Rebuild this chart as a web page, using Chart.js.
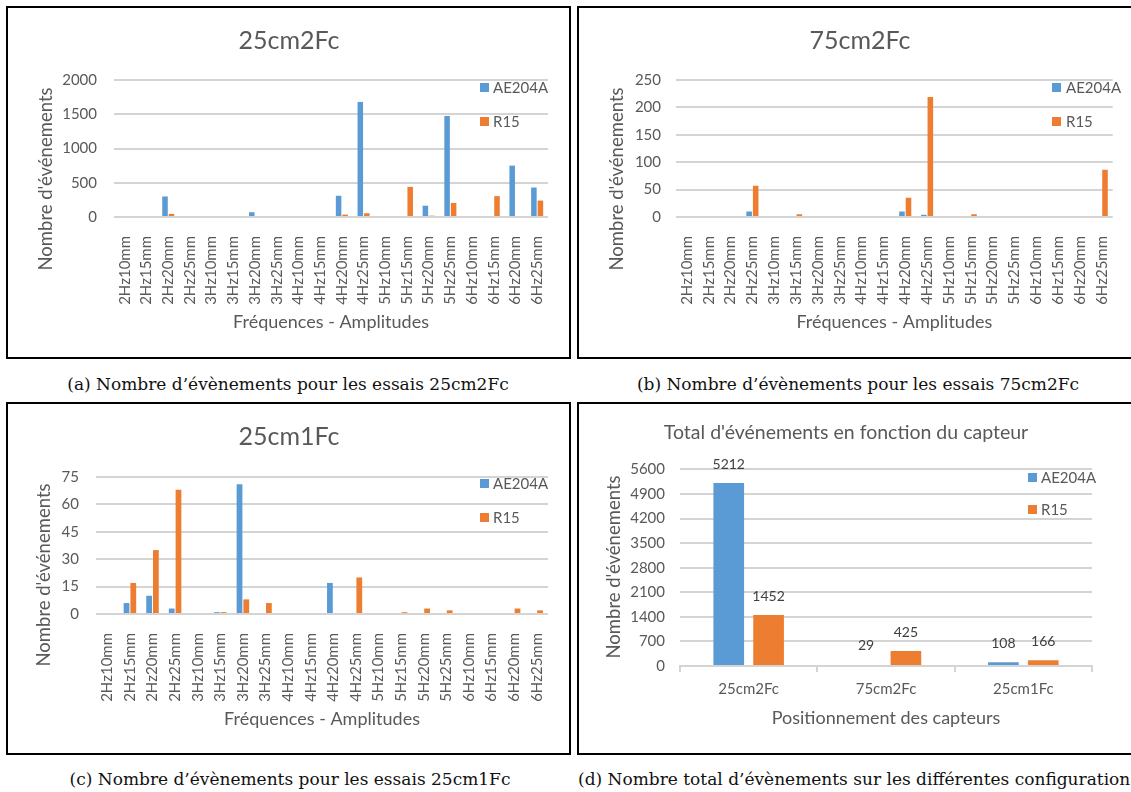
<!DOCTYPE html>
<html><head><meta charset="utf-8">
<script src="https://cdn.jsdelivr.net/npm/chart.js@4.4.1/dist/chart.umd.min.js"></script>
<style>
html,body{margin:0;padding:0;background:#fff;}
body{width:1131px;height:792px;position:relative;overflow:hidden;font-family:Lato,sans-serif;}
.panel{position:absolute;border:2px solid #000;box-sizing:border-box;}
canvas{position:absolute;}
.ytitle{position:absolute;transform:translate(-50%,-50%) rotate(-90deg);white-space:nowrap;font-size:18.5px;color:#595959;line-height:1;}
.legsq{position:absolute;width:9px;height:9px;}
.legtx{position:absolute;font-size:15px;color:#595959;white-space:nowrap;line-height:16px;}
.cap{position:absolute;font-family:'DejaVu Serif',serif;font-size:17px;color:#111;white-space:nowrap;line-height:20px;}
</style></head><body>
<div class="panel" style="left:6px;top:6px;width:565px;height:353px"></div>
<div class="panel" style="left:577px;top:6px;width:560px;height:353px"></div>
<div class="panel" style="left:6px;top:402px;width:565px;height:353px"></div>
<div class="panel" style="left:577px;top:402px;width:560px;height:353px"></div>

<canvas id="ca" width="561" height="348" style="left:8px;top:8px"></canvas>
<canvas id="cb" width="552" height="348" style="left:579px;top:8px"></canvas>
<canvas id="cc" width="561" height="349" style="left:8px;top:404px"></canvas>
<canvas id="cd" width="552" height="349" style="left:579px;top:404px"></canvas>

<div class="ytitle" style="left:45px;top:179px">Nombre d'événements</div>
<div class="ytitle" style="left:616px;top:179px">Nombre d'événements</div>
<div class="ytitle" style="left:43px;top:575px">Nombre d'événements</div>
<div class="ytitle" style="left:613px;top:567px">Nombre d'événements</div>

<div class="cap" style="left:288px;top:374px;transform:translateX(-50%)">(a) Nombre d’évènements pour les essais 25cm2Fc</div>
<div class="cap" style="left:858px;top:374px;transform:translateX(-50%)">(b) Nombre d’évènements pour les essais 75cm2Fc</div>
<div class="cap" style="left:290px;top:769px;transform:translateX(-50%)">(c) Nombre d’évènements pour les essais 25cm1Fc</div>
<div class="cap" style="left:578px;top:769px">(d) Nombre total d’évènements sur les différentes configurations</div>

<script>
// ---------- DATA ----------
const categories = ['2Hz10mm','2Hz15mm','2Hz20mm','2Hz25mm','3Hz10mm','3Hz15mm','3Hz20mm','3Hz25mm','4Hz10mm','4Hz15mm','4Hz20mm','4Hz25mm','5Hz10mm','5Hz15mm','5Hz20mm','5Hz25mm','6Hz10mm','6Hz15mm','6Hz20mm','6Hz25mm'];
const seriesNames = ['AE204A','R15'];
const seriesColors = ['#5B9BD5','#ED7D31'];

const a_AE204A = [0,0,300,0,0,0,70,0,0,0,310,1680,0,0,165,1475,0,0,750,430];
const a_R15    = [0,0,45,0,0,0,0,0,0,0,35,55,0,440,20,205,0,305,0,240];
const a_yTicks = [0,500,1000,1500,2000];

const b_AE204A = [0,0,0,10,0,0,0,0,0,0,10,4,0,0,0,0,0,0,0,0];
const b_R15    = [0,0,0,57,0,5,0,0,0,0,35,219,0,5,2,2,2,0,2,86];
const b_yTicks = [0,50,100,150,200,250];

const c_AE204A = [0,6,10,3,0,1,71,0,0,0,17,0,0,0,0,0,0,0,0,0];
const c_R15    = [0,17,35,68,0,1,8,6,0,0,0,20,0,1,3,2,0,0,3,2];
const c_yTicks = [0,15,30,45,60,75];

const d_categories = ['25cm2Fc','75cm2Fc','25cm1Fc'];
const d_AE204A = [5212,29,108];
const d_R15    = [1452,425,166];
const d_yTicks = [0,700,1400,2100,2800,3500,4200,4900,5600];

const titles = ['25cm2Fc','75cm2Fc','25cm1Fc','Total d\'événements en fonction du capteur'];
const xTitleFA = 'Fréquences - Amplitudes';
const xTitleD = 'Positionnement des capteurs';

// ---------- SETUP ----------
Chart.defaults.font.family = 'Lato';
Chart.defaults.color = '#595959';
const GRID = '#d4d4d4';
const TXT = '#595959';
const plain = v => String(v);

function legend(sqLeft, txLeft, y1, y2){
  [y1,y2].forEach((y,i)=>{
    const s=document.createElement('div'); s.className='legsq';
    s.style.left=sqLeft+'px'; s.style.top=(y-4.5)+'px'; s.style.background=seriesColors[i];
    document.body.appendChild(s);
    const t=document.createElement('div'); t.className='legtx';
    t.style.left=txLeft+'px'; t.style.top=(y-8)+'px'; t.textContent=seriesNames[i];
    document.body.appendChild(t);
  });
}

function freqChart(id, v1, v2, yTicks, title, o){
  const step = yTicks[1]-yTicks[0];
  return new Chart(document.getElementById(id), {
    type:'bar',
    data:{labels:categories, datasets:[
      {label:seriesNames[0], data:v1, backgroundColor:seriesColors[0], categoryPercentage:0.6, barPercentage:0.85},
      {label:seriesNames[1], data:v2, backgroundColor:seriesColors[1], categoryPercentage:0.6, barPercentage:0.85}
    ]},
    options:{
      responsive:false, animation:false, devicePixelRatio:1,
      layout:{padding:{left:o.L, right:o.R, top:0, bottom:0}},
      plugins:{
        legend:{display:false}, tooltip:{enabled:false},
        title:{display:true, text:title, color:TXT, font:{size:25, weight:'normal'}, padding:{top:o.tt, bottom:o.tb}}
      },
      scales:{
        y:{min:yTicks[0], max:yTicks[yTicks.length-1],
           ticks:{stepSize:step, padding:o.yp, font:{size:15}, color:TXT, callback:plain},
           grid:{color:GRID, lineWidth:2, drawTicks:false}, border:{display:false},
           afterFit(s){ s.width=o.yw; }},
        x:{ticks:{autoSkip:false, maxRotation:90, minRotation:90, padding:11, font:{size:15}, color:TXT},
           grid:{display:false}, border:{display:false},
           title:{display:true, text:xTitleFA, color:TXT, font:{size:18}, padding:{top:0, bottom:23}},
           afterFit(s){ s.height=o.xh; }}
      }
    }
  });
}

freqChart('ca', a_AE204A, a_R15, a_yTicks, titles[0], {L:22, R:21, yw:84, yp:17, xh:139, tt:18, tb:24});
freqChart('cb', b_AE204A, b_R15, b_yTicks, titles[1], {L:21, R:11, yw:76, yp:15, xh:139, tt:18, tb:24});
freqChart('cc', c_AE204A, c_R15, c_yTicks, titles[2], {L:22, R:21, yw:66, yp:17, xh:139, tt:18, tb:25});

const dataLabels = {
  id:'dataLabels',
  afterDatasetsDraw(chart){
    const ctx=chart.ctx; ctx.save();
    ctx.font='14px Lato'; ctx.fillStyle='#404040'; ctx.textAlign='center'; ctx.textBaseline='middle';
    chart.data.datasets.forEach((ds,i)=>{
      chart.getDatasetMeta(i).data.forEach((el,j)=>{ ctx.fillText(String(ds.data[j]), el.x, el.y-19); });
    });
    ctx.restore();
  }
};

new Chart(document.getElementById('cd'), {
  type:'bar',
  data:{labels:d_categories, datasets:[
    {label:seriesNames[0], data:d_AE204A, backgroundColor:seriesColors[0], categoryPercentage:0.58, barPercentage:0.77},
    {label:seriesNames[1], data:d_R15, backgroundColor:seriesColors[1], categoryPercentage:0.58, barPercentage:0.77}
  ]},
  plugins:[dataLabels],
  options:{
    responsive:false, animation:false, devicePixelRatio:1,
    layout:{padding:{left:21, right:39, top:0, bottom:0}},
    plugins:{
      legend:{display:false}, tooltip:{enabled:false},
      title:{display:true, text:titles[3], color:TXT, font:{size:19.5, weight:'normal'}, padding:{top:17, bottom:25}}
    },
    scales:{
      y:{min:d_yTicks[0], max:d_yTicks[d_yTicks.length-1],
         ticks:{stepSize:d_yTicks[1]-d_yTicks[0], padding:15, font:{size:15}, color:TXT, callback:plain},
         grid:{color:GRID, lineWidth:2, drawTicks:false}, border:{display:false},
         afterFit(s){ s.width=80; }},
      x:{ticks:{padding:8, font:{size:15}, color:TXT},
         grid:{display:true, drawOnChartArea:false, drawTicks:true, tickLength:6, offset:true, color:GRID, lineWidth:2},
         border:{display:true, color:GRID, width:2},
         title:{display:true, text:xTitleD, color:TXT, font:{size:18}, padding:{top:0, bottom:24}},
         afterFit(s){ s.height=87; }}
    }
  }
});

legend(480, 493, 87, 121);
legend(1052, 1066, 87, 121);
legend(480, 493, 483, 517);
legend(1028, 1041, 477, 509);
</script>
</body></html>
